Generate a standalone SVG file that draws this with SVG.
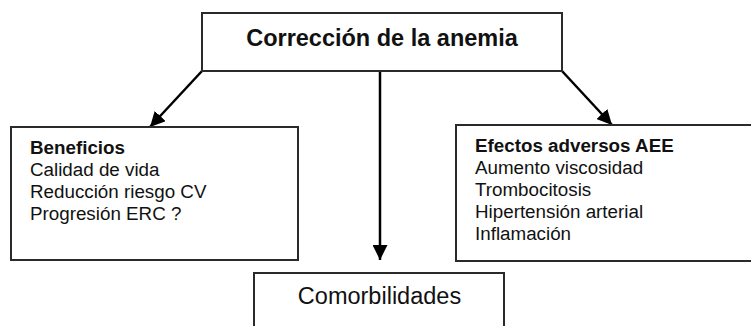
<svg xmlns="http://www.w3.org/2000/svg" width="751" height="326" viewBox="0 0 751 326">
<style>
.box{fill:#fff;stroke:#2a2a2a;stroke-width:2}
.t{font-family:"Liberation Sans",Arial,sans-serif;fill:#111}
.b{font-weight:bold}
.l{font-size:18.8px}
.conn{stroke:#000;stroke-width:2.5;fill:none}
</style>
<defs>
<marker id="ah" viewBox="0 0 10 10" refX="10" refY="5" markerWidth="6" markerHeight="6" markerUnits="strokeWidth" orient="auto">
<path d="M0,0 L10,5 L0,10 z" fill="#000"/>
</marker>
</defs>
<rect width="751" height="326" fill="#fff"/>
<g id="connectors">
<line class="conn" x1="202" y1="71" x2="150" y2="127" marker-end="url(#ah)"/>
<line class="conn" x1="562" y1="71" x2="612" y2="125" marker-end="url(#ah)"/>
<line class="conn" x1="380" y1="71" x2="380" y2="260" marker-end="url(#ah)"/>
</g>
<g id="correccion">
<rect class="box" x="202" y="13" width="360" height="58"/>
<text class="t b" x="382" y="46" font-size="23.5" text-anchor="middle">Corrección de la anemia</text>
</g>
<g id="beneficios">
<rect class="box" x="11" y="127" width="287" height="133"/>
<text class="t l" x="30" y="154"><tspan class="b">Beneficios</tspan><tspan x="30" dy="22">Calidad de vida</tspan><tspan x="30" dy="22">Reducción riesgo CV</tspan><tspan x="30" dy="22">Progresión ERC ?</tspan></text>
</g>
<g id="efectos">
<rect class="box" x="456" y="125" width="300" height="136"/>
<text class="t l" x="475" y="152"><tspan class="b">Efectos adversos AEE</tspan><tspan x="475" dy="22">Aumento viscosidad</tspan><tspan x="475" dy="22">Trombocitosis</tspan><tspan x="475" dy="22">Hipertensión arterial</tspan><tspan x="475" dy="22">Inflamación</tspan></text>
</g>
<g id="comorbilidades">
<rect class="box" x="254" y="273" width="250" height="60"/>
<text class="t" x="379.5" y="304" font-size="23.5" text-anchor="middle">Comorbilidades</text>
</g>
</svg>
